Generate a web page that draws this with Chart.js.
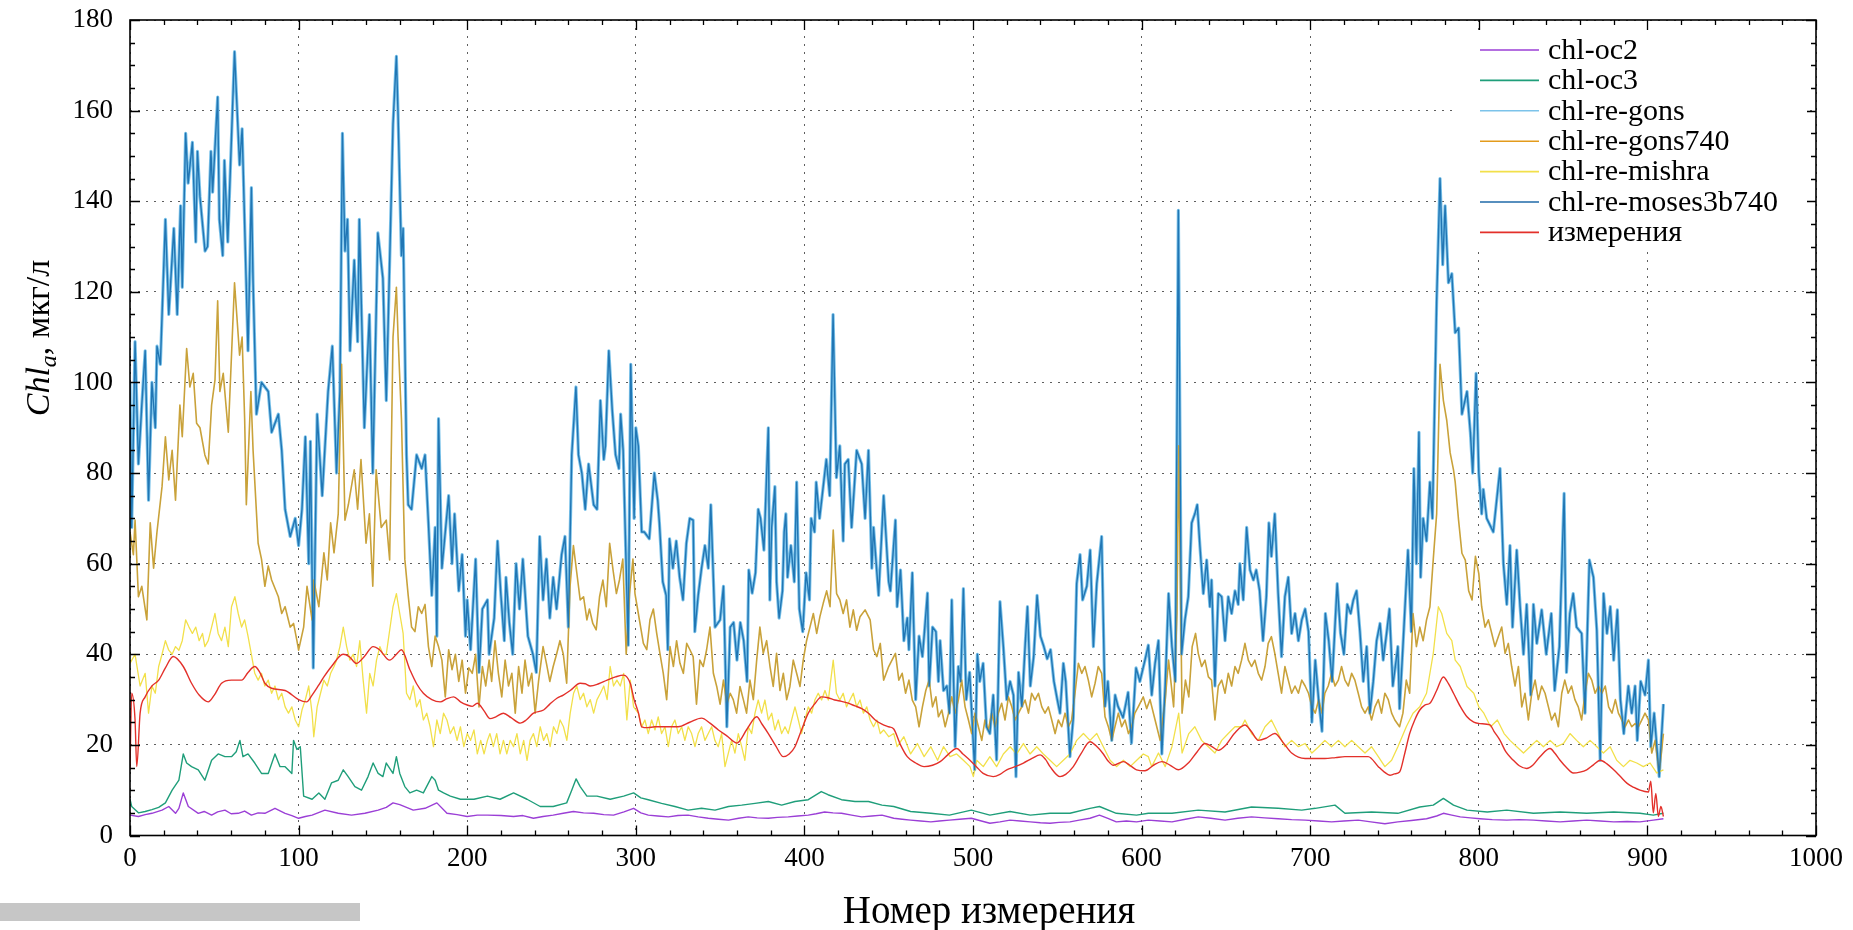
<!DOCTYPE html>
<html>
<head>
<meta charset="utf-8">
<script src="https://cdn.jsdelivr.net/npm/chart.js@4.4.1/dist/chart.umd.min.js"></script>
<style>
html,body{margin:0;padding:0;background:#fff;}
#wrap{position:relative;width:1853px;height:930px;}
canvas{display:block;}
</style>
</head>
<body>
<div id="wrap"><canvas id="c" width="1853" height="930"></canvas></div>
<script>
// ---------- DATA ----------
const seriesLabels = ['chl-oc2','chl-oc3','chl-re-gons','chl-re-gons740','chl-re-mishra','chl-re-moses3b740','измерения'];
const xTicks = [0,100,200,300,400,500,600,700,800,900,1000];
const yTicks = [0,20,40,60,80,100,120,140,160,180];

const chlOc2 = [[0,4.5],[5,4.2],[9,4.6],[13,4.9],[19,5.6],[23,6.4],[27,4.9],[29,6],[31.6,9.4],[34.6,6.4],[40.5,4.9],[44,5.3],[48.4,4.5],[52,5.2],[56.3,5.6],[60,4.8],[64.2,4.9],[68,5.4],[72,4.5],[76,5],[80,4.9],[86,6],[92,4.9],[96,4.4],[100,3.8],[104,4.2],[108,4.5],[115.6,5.6],[123.5,4.9],[131.4,4.5],[139.3,4.9],[147.2,5.6],[152,6.2],[156,7.2],[160,6.8],[164,6.2],[168,5.6],[175,6],[182,7.2],[188,4.9],[194,4.6],[200,4.2],[206,4.5],[212,4.5],[220,4.4],[227.5,4.2],[233,4.4],[239.3,3.8],[245,4.2],[251,4.5],[257,4.9],[263,5.3],[269,5],[275,4.9],[281,4.6],[286.8,4.5],[293,5.2],[298.7,6],[303,5],[307.4,4.5],[313,4.3],[319.3,4.1],[325,4.4],[331,4.5],[337,4.1],[343,3.8],[349,3.6],[355,3.4],[361,3.8],[366.7,4.1],[372,3.9],[378.6,3.8],[384,4],[390.4,4.1],[396,4.3],[402.3,4.5],[407,4.8],[412,5.2],[417,5],[422,4.9],[428,4.5],[434,4.1],[440,4.3],[446,4.5],[453,3.8],[458,3.6],[463,3.4],[469,3.2],[475,3],[480,3.2],[486,3.4],[492,3.6],[499,3.8],[505,3.2],[510,2.7],[516,3],[522,3.4],[528,3.2],[534,3],[540,2.8],[545.7,2.7],[551,2.9],[557.5,3],[563,3.4],[569.4,3.8],[575,4.5],[580,3.8],[585,3],[591,3.2],[597,3],[604,3.4],[611,3.2],[618,3],[626,3.6],[633.6,4.1],[641,3.8],[649.5,3.4],[657,3.8],[665.2,4.1],[673,3.9],[681,3.7],[689,3.5],[697,3.4],[705,3.2],[712.7,3],[720,3.2],[728.5,3.4],[736,3],[744.3,2.6],[752,3],[760,3.3],[769,3.7],[775,4.3],[779,4.9],[784,4.5],[789,4.1],[795,3.9],[800.7,3.7],[808,3.5],[816.6,3.4],[824,3.5],[832.4,3.4],[840,3.2],[848.2,3],[856,3.2],[864,3.4],[872,3.2],[880,3],[888,3.1],[895.6,3],[903.5,3.4],[909.5,3.7]];

const chlOc3 = [[0,8],[1,6.4],[5,5],[9,5.3],[13,5.7],[17,6.2],[21,7.2],[25,10],[29,12.2],[31.6,18],[33.6,16],[36.5,15.2],[40.5,14.5],[44.4,12.2],[48.4,16.6],[52.3,18],[56.3,17.4],[60.2,17.4],[63,18.5],[65.2,21],[67,17.4],[70,18],[74,16],[78,13.7],[82,13.7],[86,18],[89,15.2],[92,15.2],[96,13.7],[97,21],[99,19],[101,19.6],[103,8.7],[108,8],[112,9.4],[115.6,8],[119.5,11.6],[123.5,12.2],[126.5,14.5],[129.4,13],[133.4,10.8],[137.3,10],[141.2,13],[144.2,16],[147.2,13.7],[150,13],[152,16],[156,13.7],[158,17.4],[160,13.7],[163,10.8],[166,9.4],[170,10],[174,9.4],[179,13],[181,12.2],[183,10],[186,9.4],[190,8.7],[196,8],[204,8],[212,8.7],[219.5,8],[227.5,9.4],[235.5,8],[243.3,6.4],[251,6.4],[259,7.2],[262,10],[264.6,12.5],[267,10.8],[271,8.7],[277,8.7],[284.8,8],[292.8,8.7],[298.7,9.4],[303,8.3],[307.4,7.9],[315.3,7.1],[323.2,6.4],[331,5.6],[339,6],[347,5.6],[355,6.4],[362.8,6.7],[370.7,7.1],[378.6,7.5],[386.5,6.7],[394.4,7.5],[402.3,7.9],[410,9.7],[414,9],[422,7.9],[430,7.5],[438,7.5],[446,6.7],[453,6.4],[463,5.3],[475,4.9],[486,4.5],[499,5.6],[510,4.5],[522,5.3],[534,4.5],[545.7,4.9],[557.5,4.9],[569.4,6],[575,6.4],[585,4.9],[597,4.5],[604,4.9],[618,4.9],[633.6,5.6],[649.5,5.2],[665.2,6.3],[681,6],[695,5.6],[703,6],[714.7,6.7],[720.6,4.9],[736.4,5.2],[752,4.9],[765,6.3],[773,6.7],[779,8.2],[785,6.7],[793,5.6],[805,5.2],[816.6,5.6],[832.4,4.9],[848.2,5.2],[864,4.9],[880,5.2],[895.6,4.9],[903.5,4.5],[909.5,4.9]];

const chlReMoses = [[0,100],[1,68],[3,109],[5,82],[7,95],[9,107],[11,74],[13,100],[15,90],[16,108],[18,104],[21,136],[23,115],[26,134],[28,115],[30,139],[31,121],[33,155],[34.5,144],[37,153],[39,131],[40,151],[41.5,141],[44.5,129],[46,130],[48,151],[49,142],[52,163],[53,136],[55,128],[56,149],[58,131],[62,173],[65,148],[66.5,156],[70,107],[72,143],[73,122],[75,93],[78,100],[82,98],[84,89],[88,93],[90,85],[92,72],[95,66],[98,70],[100,64],[102,72],[104,88],[106,60],[107,87],[108.7,37],[111,93],[114,75],[117.5,98],[120,108],[122.5,80],[124.5,98],[126,155],[127.5,129],[129,136],[130.5,107],[133,127],[135,109],[136,136],[139,90],[142,115],[144,80],[147,133],[150,123],[152,96],[156,157],[158,172],[159,159],[161,128],[162,134],[164,84],[165,73],[167,72],[170,84],[173,81],[175,84],[177,69],[179,53],[181,68],[182,44],[183,92],[185,59],[189,75],[191,60],[192.5,71],[195,54],[197,62],[199,44],[200,52],[202,41],[205,61],[207,36],[209,50],[212,52],[213,40],[216,48],[218,65],[220,53],[222,43],[223,57],[225,47],[227,40],[229,60],[231,50],[233,61],[236,44],[239,40],[241,36],[243,66],[245,52],[247,61],[249,48],[251,57],[253,50],[256,62],[258,66],[260,46],[262,84],[264.5,99],[266,84],[268,80],[270,72],[272,82],[275,73],[277,72],[279,96],[281,83],[282,86],[284,107],[286,94],[288,84],[290,81],[291,93],[292.5,85],[295.5,42],[297,104],[299,70],[300,90],[301.5,86],[303.5,67],[305,67],[308,65.5],[311,80],[313,74],[314,69],[316,56],[318,53],[319,41],[320,65.5],[322,59],[324,65],[326,57],[328,52],[330,64.5],[332,70],[334,69.6],[335,45],[337,53],[339,59],[341,64],[343,59],[344.5,73],[347,46],[350,47.6],[352,55],[354,24],[356,46],[358,47],[360,38.7],[362,47],[364,43],[366,34],[367,58.6],[369,53.5],[371,58],[372.6,72],[374,70],[376,63],[378.6,90],[379.5,52],[380.6,68],[382.5,77],[383.5,56],[385,48],[387,54],[388,67],[389,71],[390,57],[392,64],[394,56],[395.4,78],[397,50],[399,45],[401,58],[403,52],[404,70],[406,67],[407,78],[409,70],[413,83],[415,75],[417,115],[419,79],[421,86],[423,65],[424,82],[426,83],[428,68],[431,85],[434,82],[436,70],[438,85],[440,59],[441,68],[444,53],[447,75],[450,56],[451,54],[454,69.6],[455,50.5],[457,58.6],[459,43],[461,48],[462,41],[464,58],[466,30],[468,44],[470,39.5],[471,44],[473,53.5],[474,33],[476,46],[478,45],[479.5,34],[480.5,43],[482.5,32],[484.5,33],[486,27],[487.4,52],[489.4,19.6],[491.3,37.3],[492.7,34],[494.3,54.5],[496,30],[498,36],[501,14.5],[502.6,40],[504,34],[506,38],[508,24],[510,22.5],[512,31],[514,16.7],[516,51.6],[518,41.7],[520,30],[522,34],[524,31],[525.5,13],[527,36],[529,28.5],[531,42.4],[532.3,50.5],[534,33],[536,39.5],[538,53],[540,44],[542,41.7],[544,39],[546,41],[548,34],[550,30],[551.6,27],[553.6,38],[555,34],[557.5,17.4],[559.5,26],[561.5,55.6],[563.5,62],[565,52],[567.5,55],[569.5,63],[571.4,41.7],[573.4,55.6],[576.3,66],[578.3,28.5],[580,34],[582.3,21],[584.3,31],[586,28.5],[589,26],[592,31.6],[594,20.4],[596.7,37],[599,34],[602,38.7],[604,42],[606,31],[608,38],[610,43],[612,18],[614,33],[616,53.4],[618,41.7],[620,34],[621.8,138],[623.7,40],[625.7,47.6],[627.7,52.7],[629.7,69],[631.6,71],[633,73],[634.6,63.8],[636.6,53.4],[638.6,60.8],[640.5,50.5],[641.5,56.4],[643.5,33],[645.5,53.4],[647.5,52.7],[649.5,43],[651.4,52.7],[653.4,49],[655.4,54],[657.3,51],[658.3,60],[660.3,52],[662.3,68],[664.3,58.6],[666.3,56.4],[668,58.6],[670,54],[672,43],[674,52.7],[675.5,69],[677,61.6],[679,71],[681,53.4],[683,39.5],[685,52.7],[687,57],[689,44.6],[691,49],[693,43],[695,47.6],[697,50],[699,45],[701,25],[703,38.7],[705,30],[707,23],[709,49],[711,43],[713,34],[716,55.6],[718,44.6],[720,40],[722,51],[724,49],[725.6,52],[727.5,54],[729.5,45],[731.5,34],[733.5,41.7],[735.4,27],[737.4,34],[739.4,43],[741.4,46.8],[743.3,38.7],[745.3,44.6],[747,50],[749,33],[752,41.7],[753,28],[755,41.7],[758,63],[760,45],[761.5,81],[763,60],[764.5,89],[765.5,57],[767,70],[769,65],[771,78],[772.5,70],[775,118],[777,145],[778.6,126],[780,139],[782,122],[784,124],[786,111],[788,112],[790,93],[793,98],[795,89],[796.4,80],[798.4,102],[800,80],[801.7,71],[802.7,76.4],[804.7,70],[808.6,67],[812.6,81],[814.6,60],[816.6,51],[818.5,64],[820,46],[822.5,63],[824.5,50.5],[826.5,40],[828.4,51],[830.8,31],[832.4,51],[834.4,42.4],[837.3,49.8],[840,40],[843,49],[845,32],[847.8,41.7],[850.6,75.5],[852,36],[854,49],[856,53.4],[858,46],[861,44.6],[863,27],[865.6,60.8],[868,57],[870,45.3],[872,16.6],[874,53.4],[876,44.6],[878,50.5],[880,38.7],[882.2,49.8],[884,30],[886,22.5],[888.7,33],[890.7,27],[892.7,33],[894,21],[896,34],[898.6,31],[900.6,38.7],[902,19.6],[904,27],[907,13],[909.5,29]];

// chl-re-gons runs underneath chl-re-moses3b740 and is visually the same curve in the picture
const chlReGons = chlReMoses;

const chlReGons740 = [[0,67],[2,62],[3,69.6],[5,52.7],[7,55],[10,47.6],[12,69],[14,59],[16,67],[19,77],[21,88],[23,78.5],[25,85],[27,74],[29.6,95],[31,88],[33.6,107.5],[35.5,99],[37.5,102],[39.5,91],[41.5,90],[44.4,84],[46.4,82],[48.4,95],[50.4,100.5],[52,118],[53.3,98],[55.3,102],[58.3,89],[62,122],[65,106],[66.5,110],[68,92],[69,73],[71.7,98],[73,85],[76,64.5],[78,61],[80,55],[82,59.5],[84,56.4],[88,52.7],[90,49],[92,50.5],[95,46],[97,46.8],[99,43],[100,40.9],[103,46],[105,55],[108,47.6],[109,56.4],[112,50.5],[115,62.4],[117,56.4],[119,69],[121,62.4],[123.5,71],[125.5,104],[127.5,69.6],[129.5,73],[133,80.7],[135,72],[137,83],[140,64.5],[142,71],[144,55],[146,80.7],[149,68],[152,69.6],[154,60.8],[156,110],[158,121],[159,110],[161,92],[163,61],[165,53],[167,46],[169,45],[171,50.5],[173,49],[175,51],[177,41.7],[179,37.3],[181,44],[183,41.7],[185,38.7],[187,30.6],[189,41],[191,36.6],[193,40],[195,34],[197,38.7],[199,31.4],[201,37],[203,35.8],[205,40],[207,28.4],[209,37.3],[211,33],[213,38.7],[214.5,34],[216.5,43],[218.5,35.8],[220.5,30.6],[222.5,38.7],[224.5,33],[226.5,35.8],[228.5,27],[230.5,37.3],[232.5,31.4],[234.3,38.7],[236.3,33],[238.3,35.8],[240.3,27],[242.3,34],[245,41.7],[247,38],[249,34],[251,37.3],[253,40],[255,43],[257,40],[259,33.6],[261,55],[263,64],[265,58],[267,52],[269,52.7],[271,47.6],[272.5,50],[274.5,46.8],[276.5,45.4],[278.5,52.7],[280.5,56.4],[282.5,50.5],[284.5,64.5],[286.5,58.6],[288.5,53.4],[290.3,56.4],[292.3,61],[294.3,40],[296.3,53.4],[298.3,61],[299.5,53.4],[301.5,49],[304.5,42.4],[306.5,41],[308.4,47.6],[310.4,50],[312.4,44.6],[314.3,40.2],[316.3,35.8],[318.3,30],[320.3,41.7],[322.3,37.3],[324.2,43],[326.2,38],[328.2,35.8],[330.2,42.4],[332.1,41],[334,39.5],[336,29],[338,38.7],[340,37.3],[342,41],[344,46],[346,35.8],[348,32.9],[350,29],[352,34.3],[354,29],[356,31.4],[357.8,30],[359.8,27],[361.8,32.9],[363.8,30],[365.7,27],[367.7,34.3],[369.7,30],[371.7,38.7],[373.6,46],[375.6,40.2],[377.6,43],[379.6,37.3],[381.5,32.9],[383.5,40.2],[385.5,32],[387.5,35.8],[389.5,30],[391.4,32.9],[393.4,38.7],[395.4,35.8],[397.4,32.9],[399.3,38.7],[401.3,43],[403.3,46],[405.3,49],[407.3,44.6],[409.2,48.3],[411.2,51.3],[413.2,54],[415.2,50.5],[417.1,67.4],[419.1,53.4],[421,52],[423,49],[425,52],[427,46],[429,49.8],[431,45.3],[433,48.3],[436,49.8],[439,47.6],[441,41],[443,39.5],[445,42.4],[447,34.3],[450,37.3],[454,40.2],[456,34.3],[458,35.8],[460,31.4],[462,34.3],[464,29.9],[466,28.4],[468,24],[470,28.4],[472,32],[474,34.3],[476,28.4],[478,30.6],[479.5,26.2],[481.5,27.7],[483.5,24],[485.5,27],[487.4,30.6],[489.4,27],[491.3,29.9],[493.3,34.3],[495.3,28.4],[497.3,25.5],[499.2,22.5],[501.2,27],[503.2,24],[505.2,21],[507.1,25.5],[509.1,23.3],[511.1,27],[513.1,24],[515,27],[517,29.2],[519,25.5],[521,30.6],[523,28.4],[525,25.5],[527,27],[528.9,28.4],[530.9,29.9],[532.9,27],[534.8,31.4],[536.8,29.9],[538.8,31.4],[540.8,28.4],[542.7,27],[544.7,28.4],[546.7,25.5],[548.7,22.5],[550.6,25.5],[552.6,24],[554.6,27],[556.6,24],[558.5,25.5],[560.5,31.4],[562.5,38],[564.5,35.8],[566.4,37.3],[568.4,34.3],[570.4,30.6],[572.4,33.6],[574.3,37.3],[576.3,35.8],[578.3,26.2],[580.3,24],[582.3,21],[584.2,24],[586.2,27],[588.2,24],[590.2,25.5],[592.2,22.5],[594.1,24],[596,27],[598,28.4],[601,30.6],[603,28],[605,30],[608,25.5],[611,21],[614,30],[616,38.7],[619,28.4],[621,49],[622,86],[624,27],[626,34.3],[628,30.6],[630,41.7],[632,44.6],[633.6,40.2],[635.6,37.3],[637.6,38.7],[639.6,35],[641.5,34.3],[643.5,25.5],[645.5,33],[647.5,34.3],[649.5,31.4],[651.4,35.8],[653.4,33],[655.4,37.3],[657.3,35.8],[659.3,38.7],[661.3,42.4],[663.3,38.7],[665.2,37.3],[667.2,38.7],[669.2,35.8],[671.2,34.3],[673.2,37.3],[675.1,42.4],[677,43.9],[679,40.2],[681,35.8],[683,31.4],[685,37.3],[687,34.3],[689,31.4],[691,33],[693,31.4],[695,34.3],[697,33],[699,31.4],[701,28.4],[703,27],[705,30],[707,27],[708.7,31.4],[710.7,33],[712.7,35.8],[714.7,33],[716.7,34.3],[718.6,37.3],[720.6,34.3],[722.6,33],[724.6,35.8],[726.5,34.3],[728.5,31.4],[730.5,28.4],[732.5,27],[734.4,28.4],[736.4,25.5],[738.4,28.4],[740.4,30],[742.3,27],[744.3,31.4],[746.3,30],[748.3,27],[750.2,25.5],[753,24],[755,27],[757,34.3],[759,31.4],[761,49],[763,41.7],[765,46],[767,43],[769,47.6],[771,50.5],[773,61],[775,71],[777,104],[779,96],[781,91.6],[783,84.5],[785,80.7],[786,78],[788,69.6],[790,62.3],[792,60.8],[794,54],[796,52],[798,61.6],[800,57.8],[801.7,50.5],[803.7,46],[805.7,47.6],[807.7,44.6],[809.6,41.7],[811.6,43.9],[813.6,46],[815.6,40.2],[817.5,42.4],[819.5,37.3],[821.5,33],[823.5,37.3],[825.5,28.4],[827.4,31.4],[829.4,25.5],[831.4,31.4],[833.4,34.3],[835.3,30],[837.3,33],[839.3,31.4],[841.3,28.4],[843.2,25.5],[845.2,27],[847.2,24],[849.2,31.4],[851,34.3],[853,31.4],[855,33],[857,30],[859,28.4],[861,25.5],[863,31.4],[865,35.8],[867,34.3],[869,31.4],[871,33],[873,31.4],[875,33],[877,28.4],[879,27],[881,30],[882.8,27],[884.8,25.5],[886.8,24],[888.8,25.5],[890.7,24],[892.7,24.7],[894.7,24],[896.7,25.5],[898.6,27],[900.6,25.5],[902.6,18.2],[904.6,21],[907,13.8],[909.5,22.5]];

const chlReMishra = [[0,38],[3,40],[6,33],[9,35.8],[11,27],[13,33],[15,31.4],[17,37.3],[19,40],[21,43],[23,40.9],[25,40],[27,41.7],[29,40.9],[31,43],[33,47.6],[35,46],[37,44.6],[39,46],[41,43],[43,44.6],[44.4,41.7],[46.4,43],[48.4,46],[50.4,49],[52.3,44.6],[54.3,43],[56.3,46],[58.3,41.7],[60.2,50.5],[62.2,52.7],[64.2,49],[66.2,46],[68,47.6],[70,44],[72,40],[74,35.8],[76,34.3],[78,35.8],[80,33],[82,34.3],[84,31.4],[86,33],[88,30],[90,31.4],[92,28.4],[94,27],[96,28.4],[98,25.5],[100,24],[102,27.7],[104,30],[106,33],[108,27],[109,21.8],[111,28.4],[113,31.4],[115,34.3],[117,33],[119,35.8],[121,37.3],[122.5,38.7],[124.5,41.7],[126.5,46],[128.5,41.7],[130.4,38.7],[132.4,40],[134.4,37.3],[136.3,43],[138.3,34.3],[140.3,27],[142.2,35.8],[144.2,33],[146.2,38.7],[148.2,41.7],[150,40],[152,40],[156,50.5],[158,53.4],[160,49],[162,44.6],[164,31.4],[166,30],[168,33],[170,28.4],[172,30],[174,25.5],[176,27],[178,24],[180,19.6],[182,25.5],[184,22.5],[186,27],[188,25.5],[190,22.5],[192,24],[194,21],[196,24],[198,19.6],[200,22.5],[202,21],[204,23.3],[206,18],[208,21],[210,18],[212,21],[213.5,22.5],[215.5,19.6],[217.5,22.5],[219.5,18],[221.5,21],[223.5,18],[225.5,21],[227.5,19.6],[229.5,22.5],[231.5,18],[233.5,21],[235.5,16.6],[237.3,21],[239.3,22.5],[241.3,19.6],[243.3,24],[245.3,21],[247.2,22.5],[249.2,19.6],[251.2,24],[253.2,22.5],[255.1,25.5],[257.1,24],[259.1,21],[261.1,27],[263.1,31.4],[265,33],[267,30],[269,31.4],[271,28.4],[273,30],[275,27],[277,30],[279,31.4],[281,33],[283,30],[284.8,37.3],[286.8,33],[288.8,34.3],[290.8,33],[292.8,35.8],[294.7,25.5],[296.7,34.3],[298.7,28.4],[301.5,27],[303.5,24],[305.4,25.5],[307.4,22.5],[309.4,25.5],[311.4,23.3],[313.3,26.2],[315.3,22.5],[317.3,24],[319.3,19.6],[321.2,24],[323.2,25.5],[325.2,22.5],[327.2,24],[329.1,21],[331.1,24],[333.1,22.5],[335.1,19.6],[337,22.5],[339,24],[341,21],[343,22.5],[345,24],[346.9,21],[348.9,19.6],[350.9,22.5],[352.9,15.2],[354.9,18.2],[356.8,21],[358.8,18.2],[360.8,22.5],[362.8,19.6],[364.7,16.6],[366.7,24],[368.7,22.5],[370.7,27],[372.6,29.9],[374.6,27],[376.6,29.9],[378.6,25.5],[380.6,27],[382.5,23.3],[384.5,25.5],[386.5,22.5],[388.5,24],[390.4,22.5],[392.4,25.5],[394.4,28.4],[396.4,25.5],[398.3,22.5],[400.3,25.5],[402.3,28.4],[404.3,27],[406.2,29.9],[408.2,31.4],[410.2,29.9],[412.2,32],[414.2,29.9],[417.1,38.7],[419,31.4],[421,29.9],[423,31.4],[425,28.4],[427,29.9],[429,31.4],[431,28.4],[433,29.9],[435,27],[437,28.4],[439,25.5],[441,24],[443,25.5],[445,22.5],[447,23.3],[450,21.8],[453,22.5],[455,19.6],[459,21.8],[463,18],[467,20.3],[471,17.4],[475,19.6],[479,16.6],[482.5,19.6],[486.4,17.4],[490.3,18],[494.3,16.6],[498.2,15.2],[500.2,13],[502.2,16.6],[506.1,15.2],[510,17.4],[514,15.2],[518,18],[522,19.6],[525.9,18],[529.9,20.3],[533.8,18],[537.8,19.6],[541.7,18],[545.7,16.6],[549.6,15.2],[553.6,16.6],[557.5,18],[561.5,21],[565.5,22.5],[569.4,21],[573.4,22.5],[577.3,19.6],[581.3,16.6],[585.2,15.2],[589.2,16.6],[593.2,15.2],[597.1,16.6],[601,18],[604,17.4],[606,15.2],[610,18.2],[614,15.2],[618,19.6],[622,27],[624,18.2],[628,22.5],[631.6,24],[635.6,21],[639.6,19.6],[643.5,18.2],[647.5,21],[651.4,22.5],[655.4,24],[659.3,24],[661.3,25.5],[665.2,22.5],[669.2,21],[673.2,24],[677,25.5],[681,22.5],[685,19.6],[689,21],[693,19.6],[697,20.3],[701,18.2],[705,19.6],[708.7,21],[712.7,19.6],[716.7,21],[720.6,19.6],[724.6,21],[728.5,19.6],[732.5,18.2],[736.4,19.6],[740.4,17.4],[744.3,15.2],[748.3,16.6],[752,19.6],[757,24],[761,27],[765,28.4],[769,31.4],[773,40.2],[776,50.5],[778,49],[781,44.6],[784,43],[786,38.7],[789,37.3],[793,32.9],[797,31.4],[800,28.4],[803,27],[807,24],[811,25.5],[815,22.5],[818.5,21],[822.5,19.6],[826.5,18.2],[830.4,19.6],[834.4,21],[838.3,19.6],[842.3,21],[846.2,19.6],[850.2,20.3],[854.1,22.5],[858,21],[862,19.6],[866,21],[870,19.6],[873.9,18.2],[877.9,19.6],[881.8,16.6],[885.8,15.2],[889.7,16.6],[893.7,16],[897.6,15.2],[901.6,16],[905.5,13.8],[909.5,14.5]];

const measured = [[0,14.5],[1,31.4],[3,25.5],[4,15.2],[6,27],[9,30.6],[13,33],[17,34.3],[21,37],[25.6,39.5],[31.6,37.3],[36.5,33.6],[41,31],[46.4,29.5],[50,31],[54.3,33.6],[60.2,34.3],[66.2,34.3],[70,36],[74,37.3],[77,36],[80,33.6],[84,32.5],[92,32],[100,30],[104.7,29.5],[108,31],[111.6,33],[115,35],[119.5,37.3],[126.4,40],[130,39.5],[134.3,38],[139,39.5],[144.2,41.7],[148,41],[154,38.7],[158,40],[161,41],[166,36.6],[170,33.5],[174,31.4],[179,30],[184,29.5],[188,30.2],[192,30.6],[196,29.5],[200,28.8],[203,28.5],[206,29.2],[210,27.5],[213.5,25.8],[217,26.2],[221.5,27],[226,26],[231.5,24.8],[235,25.5],[239.3,27],[245.3,27.7],[249,29],[253.2,30.3],[257,31],[261.1,32],[267,33.6],[270,33.5],[273,33],[278,33.5],[283,34.3],[288,35],[292.8,35.4],[296.7,33.6],[299,30],[301.6,27],[303.5,24],[307,23.8],[311.4,24],[318,24],[325.2,24],[332,25],[339,25.9],[344,24.8],[349,23.3],[354,22],[360,20.4],[366,23.5],[371.7,26.2],[375,24.5],[378.6,22.5],[383,19.8],[387.5,17.4],[391,18],[394.4,19.6],[398,23],[402.3,27],[406,29],[410.2,30.6],[414,30.4],[418,29.9],[422,29.6],[426,29.2],[430,28.6],[434,28],[438,27],[442,25.5],[446,24.6],[450,24],[453,23.5],[457,20],[461,17.4],[466,16],[471,15.2],[476,15.5],[480.5,16.3],[485,17.8],[490.3,19.2],[494,18],[498.2,16.6],[502,15.2],[506,13.7],[512,13],[516,13.5],[520,14.5],[525,15.2],[529.9,16],[535,17],[539.8,17.8],[543,16.8],[545.7,15.2],[551.6,13],[555,13.5],[559.5,15.2],[564,18],[569.4,20.7],[573,19.8],[577.3,18],[580,16.5],[583.3,15.5],[589.2,16.3],[593,15.5],[597,14.5],[602,14.3],[607,15.5],[612,16.3],[617,15.5],[621.8,14.5],[627.7,16],[633,18.5],[637.6,20.3],[641,19.8],[645.5,18.8],[650,20],[655,22.5],[661.3,24.4],[665,23],[669.2,21],[674,21.5],[679,22.5],[684,20.5],[689,18.2],[697,17],[703,17],[708.7,17],[715,17.2],[720.6,17.4],[728,17.4],[734.4,17.4],[740.4,15.2],[744,14],[747.3,13.3],[750,13.6],[753,14],[756,18],[759,22.5],[762,25.5],[765,27.7],[768,28.8],[771,29.2],[775,32],[779,35],[782,33.5],[785,31.4],[789,28.5],[793,26.2],[797,25],[800.7,24.7],[806.7,24.4],[809,23],[812.6,21],[816,18.5],[820.5,16.6],[824,15.4],[828.4,14.8],[832,15.5],[836.3,17.4],[842.3,19.2],[845,18.2],[848.2,16.6],[852,15],[856,13.8],[860,14],[864,14.5],[868,15.6],[872,16.6],[876,15.8],[880,14.5],[884,13],[888,11.5],[892,10.6],[895.6,10],[900.6,9.6],[902,12],[903.5,5],[905,9.3],[906.5,4.2],[908,6.4],[909.5,4.2]];

// ---------- STYLE ----------
const colors = {
  oc2:'#9b3fd6', oc3:'#1f9e7a', gons:'#7cc3ea', gons740:'#c9a23a',
  mishra:'#f2e04a', moses:'#2176b4', meas:'#e3302a'
};
const SERIF = '"Liberation Serif", "Times New Roman", serif';

const toXY = arr => arr.map(p => ({x:p[0], y:p[1]}));

function ds(label, pts, color, width, order, tension){
  return {label, data:toXY(pts), borderColor:color, backgroundColor:color,
    borderWidth:width, pointRadius:0, fill:false, tension:tension||0,
    order, borderJoinStyle:'round', cubicInterpolationMode: tension ? 'monotone' : 'default'};
}

const datasets = [
  ds(seriesLabels[0], chlOc2, colors.oc2, 1.4, 7),
  ds(seriesLabels[1], chlOc3, colors.oc3, 1.4, 6),
  ds(seriesLabels[2], chlReGons, colors.gons, 3.2, 5),
  ds(seriesLabels[3], chlReGons740, colors.gons740, 1.6, 4),
  ds(seriesLabels[4], chlReMishra, colors.mishra, 1.3, 3),
  ds(seriesLabels[5], chlReMoses, colors.moses, 1.4, 2),
  ds(seriesLabels[6], measured, colors.meas, 1.4, 1, 0.4)
];
const legendColors = [colors.oc2, colors.oc3, colors.gons, '#e39b1c', colors.mishra, '#1f6aa8', colors.meas];

// ---------- PLUGIN: frame, ticks, titles, legend ----------
const decor = {
  id:'decor',
  afterDraw(chart){
    const ctx = chart.ctx, a = chart.chartArea;
    const xs = chart.scales.x, ys = chart.scales.y;
    ctx.save();
    // ticks (inward)
    ctx.strokeStyle = '#000'; ctx.lineWidth = 1.3;
    ctx.beginPath();
    for (let v = 0; v <= 1000; v += 20){
      const px = Math.round(xs.getPixelForValue(v)) + 0.5;
      const L = (v % 100 === 0) ? 10 : 5;
      ctx.moveTo(px, a.bottom); ctx.lineTo(px, a.bottom - L);
      ctx.moveTo(px, a.top); ctx.lineTo(px, a.top + L);
    }
    for (let v = 0; v <= 180; v += 5){
      const py = Math.round(ys.getPixelForValue(v)) + 0.5;
      const L = (v % 20 === 0) ? 10 : 5;
      ctx.moveTo(a.left, py); ctx.lineTo(a.left + L, py);
      ctx.moveTo(a.right, py); ctx.lineTo(a.right - L, py);
    }
    ctx.stroke();
    // frame
    ctx.lineWidth = 1.6;
    ctx.strokeRect(a.left, a.top, a.right - a.left, a.bottom - a.top);

    // legend
    const lx0 = 1480, lx1 = 1539, tx = 1548, ly0 = 50, dy = 30.4;
    ctx.fillStyle = '#fff';
    ctx.fillRect(1457, 32, 350, 218);
    ctx.font = '30px ' + SERIF;
    ctx.textBaseline = 'middle'; ctx.textAlign = 'left';
    chart.data.datasets.forEach((d, i) => {
      const y = ly0 + i * dy;
      ctx.strokeStyle = legendColors[i]; ctx.lineWidth = 1.6;
      ctx.beginPath(); ctx.moveTo(lx0, y); ctx.lineTo(lx1, y); ctx.stroke();
      ctx.fillStyle = '#000';
      ctx.fillText(d.label, tx, y + 1);
    });

    // x title
    ctx.fillStyle = '#000';
    ctx.font = '39px ' + SERIF;
    ctx.textAlign = 'center'; ctx.textBaseline = 'middle';
    ctx.fillText('Номер измерения', 989, 913);

    // y title with subscript
    ctx.save();
    ctx.translate(38, 338);
    ctx.rotate(-Math.PI/2);
    const fMain = '34px ' + SERIF, fIt = 'italic 34px ' + SERIF, fSub = 'italic 24px ' + SERIF;
    ctx.font = fIt; const w1 = ctx.measureText('Chl').width;
    ctx.font = fSub; const w2 = ctx.measureText('a').width;
    ctx.font = fMain; const w3 = ctx.measureText(', мкг/л').width;
    let x = -(w1 + w2 + w3) / 2;
    ctx.textAlign = 'left'; ctx.textBaseline = 'alphabetic';
    ctx.font = fIt; ctx.fillText('Chl', x, 11); x += w1;
    ctx.font = fSub; ctx.fillText('a', x, 18); x += w2;
    ctx.font = fMain; ctx.fillText(', мкг/л', x, 11);
    ctx.restore();

    // grey bar bottom-left
    ctx.fillStyle = '#c6c6c6';
    ctx.fillRect(0, 903, 360, 18);
    ctx.restore();
  }
};

new Chart(document.getElementById('c'), {
  type:'line',
  data:{datasets},
  options:{
    responsive:false, animation:false, devicePixelRatio:1,
    layout:{padding:{left:0, right:37, top:20, bottom:0}},
    plugins:{legend:{display:false}, tooltip:{enabled:false}},
    scales:{
      x:{type:'linear', min:0, max:1000,
        afterBuildTicks: s => { s.ticks = xTicks.map(v => ({value:v})); },
        afterFit: s => { s.height = 94.5; s.paddingLeft = 0; s.paddingRight = 0; },
        ticks:{color:'#000', font:{family:SERIF, size:27}, padding:7, maxRotation:0, autoSkip:false,
          callback: v => String(v)},
        grid:{color:'#5e5e5e', lineWidth:1, drawTicks:false},
        border:{display:false, dash:[2,6]}
      },
      y:{type:'linear', min:0, max:180,
        afterBuildTicks: s => { s.ticks = yTicks.map(v => ({value:v})); },
        afterFit: s => { s.width = 130; s.paddingTop = 0; s.paddingBottom = 0; },
        ticks:{color:'#000', font:{family:SERIF, size:27}, padding:17, callback: v => String(v)},
        grid:{color:'#5e5e5e', lineWidth:1, drawTicks:false},
        border:{display:false, dash:[2,6]}
      }
    }
  },
  plugins:[decor]
});
</script>
</body>
</html>
